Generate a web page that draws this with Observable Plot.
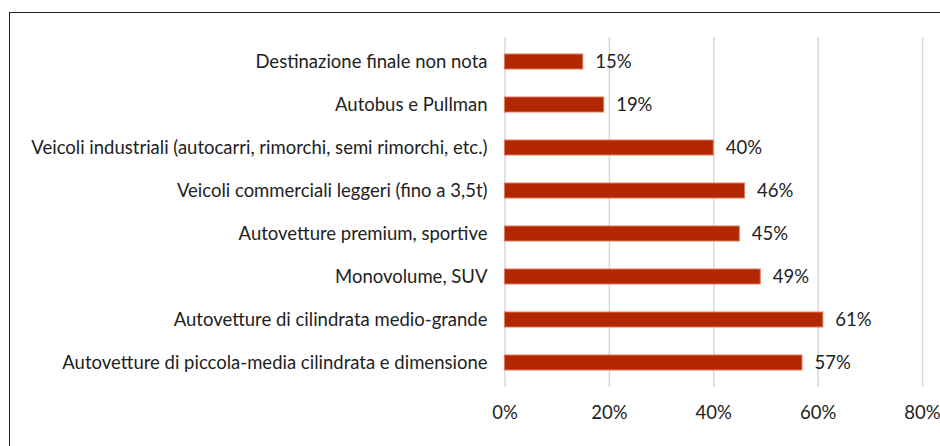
<!DOCTYPE html>
<html><head><meta charset="utf-8">
<script src="https://cdn.jsdelivr.net/npm/d3@7"></script>
<script src="https://cdn.jsdelivr.net/npm/@observablehq/plot@0.6"></script>
<style>
body{margin:0;background:#fff;}
#chart{position:relative;width:940px;height:446px;overflow:hidden;}
#frame{position:absolute;left:9px;top:12px;width:1000px;height:1000px;border:1.5px solid #222;box-sizing:border-box;pointer-events:none;}
</style></head>
<body><div id="chart"><div id="frame"></div></div>
<script>
const categories = [
  "Destinazione finale non nota",
  "Autobus e Pullman",
  "Veicoli industriali (autocarri, rimorchi, semi rimorchi, etc.)",
  "Veicoli commerciali leggeri (fino a 3,5t)",
  "Autovetture premium, sportive",
  "Monovolume, SUV",
  "Autovetture di cilindrata medio-grande",
  "Autovetture di piccola-media cilindrata e dimensione"
];
const values = [0.15, 0.19, 0.40, 0.46, 0.45, 0.49, 0.61, 0.57];
const xTicks = [0, 0.2, 0.4, 0.6, 0.8];

const data = categories.map((c, i) => ({category: c, value: values[i]}));
const pct = d3.format(".0%");

const chart = Plot.plot({
  width: 940,
  height: 446,
  marginLeft: 504.5,
  marginRight: 18,
  marginTop: 37,
  marginBottom: 59,
  style: {fontFamily: "Lato, sans-serif", fontSize: "18.5px", color: "#222", background: "transparent"},
  x: {domain: [0, 0.8], ticks: xTicks, tickFormat: pct, label: null},
  y: {domain: categories, label: null, paddingInner: 0.657, paddingOuter: 0.3285},
  marks: [
    Plot.gridX(xTicks, {stroke: "#d9d9d9", strokeOpacity: 1, strokeWidth: 1.5}),
    Plot.axisX({ticks: xTicks, tickFormat: pct, tickSize: 0, tickPadding: 18, fontSize: 18.5, label: null}),
    Plot.axisY({tickSize: 0, tickPadding: 17.5, fontSize: 18.5, label: null}),
    Plot.barX(data, {x: "value", y: "category", fill: "#b22600", stroke: "#e07a5f", strokeWidth: 1}),
    Plot.text(data, {x: "value", y: "category", text: d => pct(d.value), dx: 12, textAnchor: "start", fontSize: 18.5, fill: "#222"})
  ]
});
document.getElementById("chart").prepend(chart);
</script>
</body></html>
